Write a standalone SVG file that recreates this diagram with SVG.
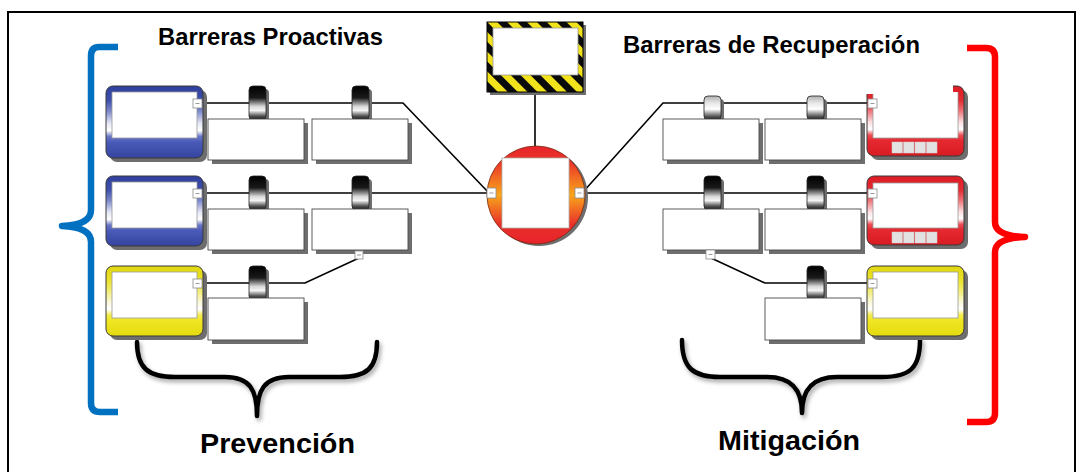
<svg xmlns="http://www.w3.org/2000/svg" width="1078" height="472" viewBox="0 0 1078 472">
<style>
.t{font-family:"Liberation Sans",Arial,sans-serif;font-weight:bold;fill:#000}
.sh{fill:#6e6e6e}
.ol{stroke:#3a3a3a;stroke-width:1}
.inner{fill:#fff;stroke:#9a9a9a;stroke-width:0.8}
.box{fill:#fff;stroke:#4a4a4a;stroke-width:0.9}
.port{fill:#fff;stroke:#8a8a8a;stroke-width:0.8}
.pd{stroke:#9a9a9a;stroke-width:1}
.sq{fill:#e2e2e2;stroke:#cfcfcf;stroke-width:0.5}
.con{fill:none;stroke:#000;stroke-width:1.6}
.brace{fill:none;stroke:#000;stroke-width:4.5;stroke-linecap:round;stroke-linejoin:round}
.cyl{stroke:#222;stroke-width:0.8}
</style>
<defs>
<linearGradient id="blueG" x1="0" y1="0" x2="0" y2="1">
<stop offset="0" stop-color="#2e3e9c"/><stop offset="0.2" stop-color="#3f50ac"/><stop offset="0.35" stop-color="#7c88cc"/><stop offset="0.52" stop-color="#e6e8f6"/><stop offset="0.62" stop-color="#ffffff"/><stop offset="0.7" stop-color="#6b78c6"/><stop offset="0.78" stop-color="#4a5ab8"/><stop offset="1" stop-color="#34449f"/>
</linearGradient>
<linearGradient id="yelG" x1="0" y1="0" x2="0" y2="1">
<stop offset="0" stop-color="#e0d60e"/><stop offset="0.2" stop-color="#ebe22a"/><stop offset="0.35" stop-color="#f2ec70"/><stop offset="0.52" stop-color="#fbf9dc"/><stop offset="0.62" stop-color="#ffffff"/><stop offset="0.7" stop-color="#f3ec50"/><stop offset="0.78" stop-color="#f0e622"/><stop offset="1" stop-color="#e4da10"/>
</linearGradient>
<linearGradient id="redG" x1="0" y1="0" x2="0" y2="1">
<stop offset="0" stop-color="#dc1c24"/><stop offset="0.2" stop-color="#e42a32"/><stop offset="0.35" stop-color="#ee7076"/><stop offset="0.52" stop-color="#fbe0e2"/><stop offset="0.62" stop-color="#ffffff"/><stop offset="0.7" stop-color="#ec5058"/><stop offset="0.78" stop-color="#e62830"/><stop offset="1" stop-color="#d81c22"/>
</linearGradient>
<linearGradient id="cylD" x1="0" y1="0" x2="0" y2="1">
<stop offset="0" stop-color="#000"/><stop offset="0.35" stop-color="#1a1a1a"/><stop offset="0.6" stop-color="#d8d8d8"/><stop offset="0.72" stop-color="#f5f5f5"/><stop offset="0.88" stop-color="#555"/><stop offset="1" stop-color="#111"/>
</linearGradient>
<linearGradient id="cylL" x1="0" y1="0" x2="0" y2="1">
<stop offset="0" stop-color="#b0b0b0"/><stop offset="0.3" stop-color="#e8e8e8"/><stop offset="0.55" stop-color="#ffffff"/><stop offset="0.82" stop-color="#666"/><stop offset="1" stop-color="#111"/>
</linearGradient>
<linearGradient id="circG" x1="0" y1="0" x2="0" y2="1">
<stop offset="0" stop-color="#e8232b"/><stop offset="0.18" stop-color="#ea3a28"/><stop offset="0.5" stop-color="#f9a61a"/><stop offset="0.8" stop-color="#e8302a"/><stop offset="1" stop-color="#e8232b"/>
</linearGradient>
<pattern id="haz" patternUnits="userSpaceOnUse" width="14" height="14" patternTransform="rotate(-45)">
<rect width="14" height="14" fill="#f2e21c"/><rect width="7" height="14" fill="#0a0a0a"/>
</pattern>
<filter id="ds" x="-10%" y="-10%" width="130%" height="140%">
<feDropShadow dx="2" dy="3" stdDeviation="2" flood-color="#000" flood-opacity="0.35"/>
</filter>
</defs>

<rect x="8" y="12" width="1067" height="480" fill="#fff" stroke="#000" stroke-width="2"/>

<text class="t" x="158" y="45" font-size="23.5" textLength="225" lengthAdjust="spacingAndGlyphs">Barreras Proactivas</text>
<text class="t" x="623" y="53" font-size="23.5" textLength="297" lengthAdjust="spacingAndGlyphs">Barreras de Recuperación</text>
<text class="t" x="200" y="453" font-size="28.5" textLength="155" lengthAdjust="spacingAndGlyphs">Prevención</text>
<text class="t" x="718" y="450" font-size="28.5" textLength="142" lengthAdjust="spacingAndGlyphs">Mitigación</text>

<g id="connectors">
<path class="con" d="M535,92 L535,146"/>
<path class="con" d="M202,103 L403,103 L488,192"/>
<path class="con" d="M202,193 L488,193"/>
<path class="con" d="M202,283 L305,283 L359,258"/>
<path class="con" d="M583,192 L663,103 L868,103"/>
<path class="con" d="M583,193 L868,193"/>
<path class="con" d="M711,258 L765,283 L868,283"/>
</g>

<g id="bracket-left">
<path d="M118,47 L99,47 Q91,47 91,56 L91,210 Q91,225 62,226 Q91,227 91,242 L91,403 Q91,412 100,412 L118,412" fill="none" stroke="#0070c0" stroke-width="6.5" stroke-linejoin="round"/>
</g>
<g id="bracket-right">
<path d="M967,48 L986,48 Q995,48 995,57 L995,222 Q995,236 1025,237 Q995,238 995,252 L995,413 Q995,422 986,422 L967,422" fill="none" stroke="#ff0000" stroke-width="6.5" stroke-linejoin="round"/>
</g>
<g id="brace-prevencion" filter="url(#ds)">
<path class="brace" d="M137,342 C137,368 148,377 175,377 L225,377 C250,377 257,390 257,416 C257,390 264,377 289,377 L340,377 C367,377 377,368 377,342"/>
</g>
<g id="brace-mitigacion" filter="url(#ds)">
<path class="brace" d="M682,340 C682,368 693,377 720,377 L767,377 C792,377 802,390 802,413 C802,390 812,377 837,377 L882,377 C910,377 920,368 920,340"/>
</g>

<g id="hazard">
<rect x="490" y="25" width="96" height="70" class="sh"/>
<rect x="487" y="22" width="96" height="70" fill="url(#haz)" stroke="#000" stroke-width="1"/>
<rect x="493" y="28" width="85" height="47" class="inner"/>
</g>

<g id="top-event">
<circle cx="539" cy="197" r="49" class="sh"/>
<circle cx="536" cy="195" r="49" fill="url(#circG)" stroke="#7a2a10" stroke-width="0.8"/>
<rect x="502" y="158" width="67" height="70" fill="#fff" stroke="#b0b0b0" stroke-width="0.8"/>
<rect x="487" y="188" width="9" height="10" class="port"/><line x1="489.5" y1="193" x2="493.5" y2="193" class="pd"/>
<rect x="575" y="188" width="9" height="10" class="port"/><line x1="577.5" y1="193" x2="581.5" y2="193" class="pd"/>
</g>

<g id="threat-1">
<rect x="110" y="90" width="97" height="72" rx="7" class="sh"/>
<rect x="106" y="86" width="97" height="72" rx="7" fill="url(#blueG)" class="ol"/>
<rect x="112" y="92" width="85" height="46" class="inner"/>
<rect x="193" y="99" width="9" height="9" class="port"/><line x1="195.5" y1="103.5" x2="199.5" y2="103.5" class="pd"/>
</g>
<g id="threat-2">
<rect x="110" y="180" width="97" height="70" rx="7" class="sh"/>
<rect x="106" y="176" width="97" height="70" rx="7" fill="url(#blueG)" class="ol"/>
<rect x="112" y="182" width="85" height="46" class="inner"/>
<rect x="193" y="189" width="9" height="9" class="port"/><line x1="195.5" y1="193.5" x2="199.5" y2="193.5" class="pd"/>
</g>
<g id="threat-3">
<rect x="110" y="270" width="97" height="70" rx="7" class="sh"/>
<rect x="106" y="266" width="97" height="70" rx="7" fill="url(#yelG)" class="ol"/>
<rect x="112" y="272" width="85" height="46" class="inner"/>
<rect x="193" y="279" width="9" height="9" class="port"/><line x1="195.5" y1="283.5" x2="199.5" y2="283.5" class="pd"/>
</g>

<g id="barrier-l1a">
<rect x="252" y="89" width="17" height="34" rx="4" class="sh"/>
<rect x="249" y="86" width="17" height="34" rx="4" fill="url(#cylD)" class="cyl"/>
<rect x="212" y="123" width="96" height="41" class="sh"/>
<rect x="208" y="119" width="96" height="41" class="box"/>
</g>
<g id="barrier-l1b">
<rect x="355" y="89" width="17" height="34" rx="4" class="sh"/>
<rect x="352" y="86" width="17" height="34" rx="4" fill="url(#cylD)" class="cyl"/>
<rect x="316" y="123" width="96" height="41" class="sh"/>
<rect x="312" y="119" width="96" height="41" class="box"/>
</g>
<g id="barrier-l2a">
<rect x="252" y="179" width="17" height="34" rx="4" class="sh"/>
<rect x="249" y="176" width="17" height="34" rx="4" fill="url(#cylD)" class="cyl"/>
<rect x="212" y="213" width="96" height="41" class="sh"/>
<rect x="208" y="209" width="96" height="41" class="box"/>
</g>
<g id="barrier-l2b">
<rect x="355" y="179" width="17" height="34" rx="4" class="sh"/>
<rect x="352" y="176" width="17" height="34" rx="4" fill="url(#cylD)" class="cyl"/>
<rect x="316" y="213" width="96" height="41" class="sh"/>
<rect x="312" y="209" width="96" height="41" class="box"/>
<rect x="355" y="251" width="8" height="8" class="port"/><line x1="357" y1="255" x2="361" y2="255" class="pd"/>
</g>
<g id="barrier-l3">
<rect x="252" y="269" width="17" height="34" rx="4" class="sh"/>
<rect x="249" y="266" width="17" height="34" rx="4" fill="url(#cylD)" class="cyl"/>
<rect x="212" y="302" width="96" height="42" class="sh"/>
<rect x="208" y="298" width="96" height="42" class="box"/>
</g>

<g id="barrier-r1a">
<rect x="707" y="99" width="17" height="24" rx="4" class="sh"/>
<rect x="704" y="96" width="17" height="24" rx="4" fill="url(#cylL)" class="cyl"/>
<rect x="667" y="123" width="96" height="41" class="sh"/>
<rect x="663" y="119" width="96" height="41" class="box"/>
</g>
<g id="barrier-r1b">
<rect x="810" y="99" width="17" height="24" rx="4" class="sh"/>
<rect x="807" y="96" width="17" height="24" rx="4" fill="url(#cylL)" class="cyl"/>
<rect x="769" y="123" width="96" height="41" class="sh"/>
<rect x="765" y="119" width="96" height="41" class="box"/>
</g>
<g id="barrier-r2a">
<rect x="707" y="179" width="17" height="34" rx="4" class="sh"/>
<rect x="704" y="176" width="17" height="34" rx="4" fill="url(#cylD)" class="cyl"/>
<rect x="667" y="213" width="96" height="41" class="sh"/>
<rect x="663" y="209" width="96" height="41" class="box"/>
<rect x="706" y="250" width="9" height="9" class="port"/><line x1="708.5" y1="254.5" x2="712.5" y2="254.5" class="pd"/>
</g>
<g id="barrier-r2b">
<rect x="810" y="179" width="17" height="34" rx="4" class="sh"/>
<rect x="807" y="176" width="17" height="34" rx="4" fill="url(#cylD)" class="cyl"/>
<rect x="769" y="213" width="96" height="41" class="sh"/>
<rect x="765" y="209" width="96" height="41" class="box"/>
</g>
<g id="barrier-r3">
<rect x="810" y="269" width="17" height="34" rx="4" class="sh"/>
<rect x="807" y="266" width="17" height="34" rx="4" fill="url(#cylD)" class="cyl"/>
<rect x="769" y="302" width="96" height="42" class="sh"/>
<rect x="765" y="298" width="96" height="42" class="box"/>
</g>

<g id="consequence-1">
<rect x="871" y="90" width="97" height="70" rx="7" class="sh"/>
<rect x="867" y="86" width="97" height="70" rx="7" fill="url(#redG)" class="ol"/>
<rect x="866" y="84" width="87" height="10" fill="#fff"/>
<rect x="873" y="92" width="85" height="46" fill="#fff" stroke="none"/>
<path d="M873,94 L873,138 L958,138 L958,92" fill="none" stroke="#9a9a9a" stroke-width="0.8"/>
<rect x="892" y="142" width="10.5" height="11" class="sq"/><rect x="903.5" y="142" width="10.5" height="11" class="sq"/><rect x="915" y="142" width="10.5" height="11" class="sq"/><rect x="926.5" y="142" width="10.5" height="11" class="sq"/>
<rect x="868" y="99" width="9" height="9" class="port"/><line x1="870.5" y1="103.5" x2="874.5" y2="103.5" class="pd"/>
</g>
<g id="consequence-2">
<rect x="871" y="180" width="97" height="69" rx="7" class="sh"/>
<rect x="867" y="176" width="97" height="69" rx="7" fill="url(#redG)" class="ol"/>
<rect x="873" y="183" width="85" height="45" class="inner"/>
<rect x="892" y="232" width="10.5" height="11" class="sq"/><rect x="903.5" y="232" width="10.5" height="11" class="sq"/><rect x="915" y="232" width="10.5" height="11" class="sq"/><rect x="926.5" y="232" width="10.5" height="11" class="sq"/>
<rect x="868" y="189" width="9" height="9" class="port"/><line x1="870.5" y1="193.5" x2="874.5" y2="193.5" class="pd"/>
</g>
<g id="consequence-3">
<rect x="871" y="270" width="97" height="70" rx="7" class="sh"/>
<rect x="867" y="266" width="97" height="70" rx="7" fill="url(#yelG)" class="ol"/>
<rect x="873" y="272" width="85" height="46" class="inner"/>
<rect x="868" y="279" width="9" height="9" class="port"/><line x1="870.5" y1="283.5" x2="874.5" y2="283.5" class="pd"/>
</g>
</svg>
